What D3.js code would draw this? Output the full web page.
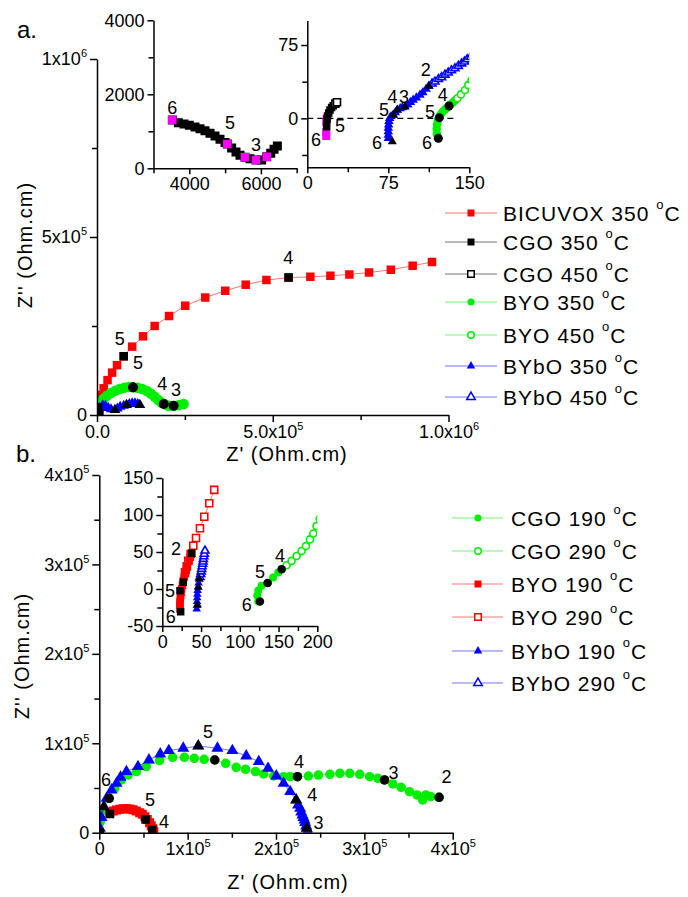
<!DOCTYPE html>
<html>
<head>
<meta charset="utf-8">
<script src="https://cdn.jsdelivr.net/npm/d3@7"></script>
<style>
  body { margin: 0; background: #ffffff; }
  svg text { font-family: "Liberation Sans", Arial, Helvetica, sans-serif; fill: #000; }
</style>
</head>
<body>
<svg id="chart" width="688" height="897"></svg>
<script>
// ================= DATA (Z', Z'' in Ohm.cm) =================

// ---- (a) 350 / 450 °C ----
const bicuvox350 = [[3e3,30e3],[5e3,42e3],[7.6e3,56e3],[19e3,75e3],[30e3,98e3],[43e3,119e3],[57e3,140e3],[76e3,165e3],[100e3,192e3],[131e3,221e3],[164e3,250e3],[205e3,278e3],[251e3,307e3],[308e3,330e3],[365e3,349e3],[423e3,366e3],[482e3,379e3],[545e3,386e3],[607e3,388e3],[664e3,391e3],[718e3,395e3],[774e3,400e3],[836e3,408e3],[898e3,419e3],[953e3,430e3]];
const bicuvox350Keys = [[76e3,165e3],[545e3,386e3]];

// CGO 350 low-frequency arc and high-frequency end
const cgo350Lf = [[3526,1306],[3694,1234],[3852,1198],[4001,1162],[4159,1117],[4299,1072],[4438,1018],[4578,946],[4718,874],[4857,784],[4997,694],[5062,658],[5183,550],[5304,441],[5416,351],[5555,297],[5695,261],[5863,225],[6021,225],[6162,315],[6274,405],[6367,514],[6460,604]];
const cgo350LfDecades = [[3526,1306],[5062,658],[5555,297],[5863,225],[6162,315]];
const cgo350Hf = [[18.3,-1],[18.8,2.5],[19.8,5.5],[21,8.5],[22.5,11],[24,13]];
const cgo350HfDecades = [[17.5,-18],[17.5,-14],[17.6,-4],[18,0]];
const cgo350Keys = [[17.9,-8.5],[4e3,22e3]];
const cgo450 = [[26,15],[27.5,16.5]];

const byo350Hf = [[121.3,-20.5],[120,-16],[119.8,-11],[120.2,-6],[121,-2],[122.2,0.7],[123.5,4],[125.3,6.8],[127.5,9],[129.5,11],[131.2,12.6],[133,14.5],[135,16.5],[137,18.5]];
const byo350 = [[2.8e3,23.4e3],[9.5e3,35.5e3],[19e3,45.8e3],[28.4e3,54.2e3],[39.8e3,61.7e3],[52.1e3,68.2e3],[64.5e3,72.9e3],[77.7e3,76.6e3],[90e3,78.5e3],[102.4e3,77.6e3],[115.6e3,76.6e3],[128.9e3,72.9e3],[142.2e3,67.3e3],[153.6e3,59.8e3],[164e3,51.4e3],[174.4e3,42.1e3],[183.9e3,34.6e3],[193.4e3,29.9e3],[203.8e3,26.2e3],[218e3,25.2e3],[232.2e3,27.1e3],[246.5e3,30.8e3]];
const byo350Keys = [[121.3,-20.5],[122.2,0.7],[131.2,12.6],[102.4e3,77.6e3],[190e3,30.8e3],[218e3,26e3]];
const byo450 = [[139,20.5],[142.3,24.5],[146,29],[149,34],[152,39]];

const bybo350Hf = [[75,-20.5],[75,-17],[75,-13.5],[75,-10],[75.3,-6.5],[75.6,-3],[76.3,0],[77.5,2],[79.6,3.4],[81.5,6],[83.3,8.5],[86,10],[88,11],[90.4,11.9],[93,14],[95.5,16.5],[98,18.8],[101,21],[104.3,23.9],[107,26.5],[110,30],[112.6,33]];
const bybo350 = [[2e3,10e3],[8e3,20e3],[16e3,27e3],[24e3,26e3],[32e3,20e3],[40e3,16e3],[51e3,14e3],[58e3,18e3],[66e3,23e3],[76e3,26e3],[84e3,28e3],[92e3,31e3],[100e3,33e3],[108e3,33e3],[116e3,31e3],[122e3,28e3]];
const bybo350Keys = [[78.7,-23.9],[79.6,3.4],[83.3,8.5],[90.4,11.9],[112.6,33],[51e3,14e3],[84e3,28e3],[122e3,28e3]];
const bybo450 = [[115.5,35.5],[118.2,37.5],[121.5,40],[124.4,42],[127.5,44.5],[130.5,46.7],[133.5,49],[136.7,51],[139.8,53.5],[142.9,56],[145.5,58],[148,60.3],[151,62.5]];

// ---- (b) 190 / 290 °C ----
const cgo190Hf = [[123.8,-17],[122.5,-8.9],[123.8,-2.2],[128,4.5],[135.9,8],[143,15.6],[149.6,22.3],[154,26.8]];
const cgo190 = [[1e3,12e3],[2.6e3,23.5e3],[11.2e3,38.4e3],[17.6e3,49.6e3],[25e3,59e3],[32.6e3,64.5e3],[42e3,68.3e3],[53.2e3,73.9e3],[68.2e3,80.6e3],[83e3,84.3e3],[96.3e3,84.3e3],[107.5e3,83.2e3],[118.7e3,82e3],[130.7e3,81.3e3],[143e3,77.6e3],[155e3,73.1e3],[165.5e3,70.9e3],[176.8e3,68.3e3],[186e3,65.7e3],[197.4e3,63.4e3],[208.6e3,62.7e3],[216e3,62.7e3],[224.3e3,62.7e3],[236.7e3,63.4e3],[248e3,64.5e3],[261e3,65.3e3],[272.3e3,66.4e3],[283.5e3,66.4e3],[294.8e3,65.3e3],[306e3,62.7e3],[315.4e3,60.8e3],[322.8e3,59e3],[332.2e3,54.5e3],[341.6e3,50.7e3],[351e3,45.9e3],[359.6e3,42.2e3],[366e3,36.6e3],[369.7e3,42.2e3],[375.3e3,40.3e3],[384.6e3,39.6e3]];
const cgo190Keys = [[126,-17],[135.9,8],[154,26.8],[11.2e3,38.4e3],[130.7e3,81.3e3],[224.3e3,62.7e3],[322.8e3,59e3],[384.6e3,39.6e3]];
const cgo290 = [[160.4,32],[166.8,38],[173.3,44.6],[179.7,51.3],[185.3,58],[190.5,67],[194.8,75],[199,85],[203,95]];

const byo190Hf = [[22.8,-27],[22.8,-22],[22.8,-18],[23.2,-13],[23.7,-9],[24.2,-4.5],[25,0],[26,5],[27.1,11.3],[28.2,16],[29.3,20.3],[30.8,25],[32.5,30],[34.5,38.3],[36,43],[37.9,48.2]];
const byo190 = [[12e3,22.4e3],[15.7e3,24.3e3],[19.5e3,25.4e3],[23.2e3,26.1e3],[27e3,26.9e3],[30.7e3,26.9e3],[34.5e3,26.5e3],[38.2e3,25.7e3],[41.9e3,24.3e3],[45.7e3,22.4e3],[48.7e3,20.5e3],[51.7e3,17.9e3],[54.3e3,14.9e3],[56.9e3,11.2e3],[58.8e3,7.8e3],[60.7e3,4.5e3],[61.8e3,1.1e3]];
const byo190Keys = [[23.7,-30.6],[22.8,-2.3],[27.1,9],[37.9,48.2],[12e3,20.9e3],[52.4e3,14.9e3],[59.9e3,3e3]];
const byo290 = [[29.3,22.5],[31.5,30.6],[33.5,38],[36.6,47.3],[40,58.5],[43.5,69],[48.6,82],[54.2,97.7],[60.6,115.8],[67,134]];

const bybo190Hf = [[44.4,-27],[44.6,-22],[44.8,-17],[45,-12],[45.2,-7],[45.6,-2],[46.2,3],[46.8,8],[47.7,13.5]];
const bybo190 = [[0.7e3,4.9e3],[2.5e3,17e3],[5.2e3,29e3],[8.2e3,38.4e3],[13.9e3,47.8e3],[19.5e3,55.2e3],[24e3,62e3],[30.7e3,68.3e3],[43.8e3,73.9e3],[56.2e3,81.3e3],[69e3,88e3],[78.7e3,91.8e3],[95e3,94.4e3],[112e3,97e3],[133.7e3,94.4e3],[150.6e3,91.8e3],[166.3e3,85.8e3],[180.5e3,79.5e3],[191e3,72e3],[200.4e3,63.4e3],[208.6e3,55.2e3],[216e3,46e3],[222.8e3,36.6e3],[225e3,31e3],[227.3e3,27.2e3],[228.5e3,23e3],[229.9e3,19.8e3],[231e3,17e3],[232.2e3,14.2e3],[233e3,11.5e3],[234.2e3,7.5e3],[234.8e3,5e3],[236e3,1.5e3]];
const bybo190Keys = [[45.6,-21.6],[46.5,2.3],[47.7,13.5],[5.2e3,29e3],[112e3,97e3],[222.8e3,36.6e3],[234.8e3,5e3]];
const bybo290 = [[48.6,16],[49.5,20],[50.2,23.5],[50.8,27],[51.4,30.5],[52,33.8],[52.5,37],[53,40.5],[53.6,44],[54.2,47.3],[55.1,51.8]];

// ---- frequency labels (log f) placed at data coordinates ----
const labelsAMain = [["4",544e3,440e3],["5",65e3,213e3],["5",117e3,145e3],["4",186e3,87e3],["3",225e3,70e3]];
const labelsAIn1 = [["6",3525,1622],["5",5137,1232],["3",5863,630]];
const labelsAIn2 = [["2",109.6,49.4],["4",79,21.8],["3",89.5,21.8],["5",71,8.5],["6",64.5,-25.3],["4",125.4,23.8],["5",113.6,6.4],["6",110.8,-25.3],["6",8,-22.3],["5",30.3,-7.9]];
const labelsBMain = [["6",7.6e3,59e3],["5",123e3,113e3],["4",226e3,79.4e3],["3",333e3,66.4e3],["2",393e3,62e3],["4",241e3,42e3],["3",248e3,11.2e3],["5",57.4e3,36.6e3],["4",73.2e3,12.3e3]];
const labelsBIn = [["2",17.7,53.6],["5",9.9,-2.3],["6",10.8,-37.4],["6",109,-21.6],["5",126,22.6],["4",152,45]];

// ---- ticks ----
const aMainXTicks = [0, 5e5, 1e6], aMainXLabels = ["0.0", "5.0x10^5", "1.0x10^6"], aMainXMinor = [2.5e5, 7.5e5];
const aMainYTicks = [0, 5e5, 1e6], aMainYLabels = ["0", "5x10^5", "1x10^6"], aMainYMinor = [2.5e5, 7.5e5];
const aIn1XTicks = [4000, 6000], aIn1XLabels = ["4000", "6000"], aIn1XMinor = [3000, 5000, 7000];
const aIn1YTicks = [0, 2000, 4000], aIn1YLabels = ["0", "2000", "4000"], aIn1YMinor = [1000, 3000];
const aIn2XTicks = [0, 75, 150], aIn2XLabels = ["0", "75", "150"], aIn2XMinor = [37.5, 112.5];
const aIn2YTicks = [0, 75], aIn2YLabels = ["0", "75"], aIn2YMinor = [-37.5, 37.5];
const bMainTicks = [0, 1e5, 2e5, 3e5, 4e5], bMainLabels = ["0", "1x10^5", "2x10^5", "3x10^5", "4x10^5"], bMainMinor = [0.5e5, 1.5e5, 2.5e5, 3.5e5];
const bInXTicks = [0, 50, 100, 150, 200], bInXLabels = ["0", "50", "100", "150", "200"], bInXMinor = [25, 75, 125, 175];
const bInYTicks = [-50, 0, 50, 100, 150], bInYLabels = ["-50", "0", "50", "100", "150"], bInYMinor = [-25, 25, 75, 125];

// ---- legends ----
const legendA = [["BICUVOX 350", "bicuvox"], ["CGO 350", "blackF"], ["CGO 450", "blackO"], ["BYO 350", "greenF"], ["BYO 450", "greenO"], ["BYbO 350", "blueF"], ["BYbO 450", "blueO"]];
const legendB = [["CGO 190", "greenF"], ["CGO 290", "greenO"], ["BYO 190", "redF"], ["BYO 290", "redO"], ["BYbO 190", "blueF"], ["BYbO 290", "blueO"]];

// ================= STYLES =================
const RED = "#ff0000", GREEN = "#00ee00", BLUE = "#0000ff", BLACK = "#000000", MAGENTA = "#ff00ff";
const styles = {
  bicuvox: { color: RED, shape: "square" },
  redF: { color: RED, shape: "square" },
  redO: { color: RED, shape: "square", open: true },
  blackF: { color: BLACK, shape: "square" },
  blackO: { color: BLACK, shape: "square", open: true },
  greenF: { color: GREEN, shape: "circle" },
  greenO: { color: GREEN, shape: "circle", open: true },
  blueF: { color: BLUE, shape: "triangle" },
  blueO: { color: BLUE, shape: "triangle", open: true },
  magenta: { color: MAGENTA, shape: "square" },
  keySq: { color: BLACK, shape: "square" },
  keyCi: { color: BLACK, shape: "circle" },
  keyTr: { color: BLACK, shape: "triangle" }
};
const symbolTypes = { square: d3.symbolSquare, circle: d3.symbolCircle, triangle: d3.symbolTriangle };
function symArea(shape, s) {
  if (shape === "square") return s * s;
  if (shape === "circle") return Math.PI * s * s / 4;
  return Math.sqrt(3) / 4 * s * s;
}

const svg = d3.select("#chart");
let clipCount = 0;

function withSup(textSel, str, supSize, supRise) {
  const parts = str.split("^");
  textSel.text(null);
  textSel.append("tspan").text(parts[0]);
  if (parts.length > 1) textSel.append("tspan").attr("font-size", supSize).attr("dy", -supRise).text(parts[1]);
}

function drawMarks(layer, x, y, data, styleKey, size, withLine) {
  const st = styles[styleKey];
  if (withLine) {
    layer.append("path").datum(data)
      .attr("d", d3.line().x(d => x(d[0])).y(d => y(d[1])))
      .attr("fill", "none").attr("stroke", st.color)
      .attr("stroke-width", 1).attr("stroke-opacity", 0.55);
  }
  const sym = d3.symbol(symbolTypes[st.shape], symArea(st.shape, size))();
  layer.append("g").selectAll("path").data(data).join("path")
    .attr("transform", d => `translate(${x(d[0])},${y(d[1])})`)
    .attr("d", sym)
    .attr("fill", st.open ? "#ffffff" : st.color)
    .attr("stroke", st.open ? st.color : "none")
    .attr("stroke-width", st.open ? 1.6 : 0);
}

function panel(o) {
  const g = svg.append("g");
  const x = d3.scaleLinear().domain(o.xd).range(o.xr);
  const y = d3.scaleLinear().domain(o.yd).range(o.yr);
  const id = "clip" + (clipCount++);
  svg.append("clipPath").attr("id", id).append("rect")
    .attr("x", o.xr[0]).attr("y", o.yr[1])
    .attr("width", o.xr[1] - o.xr[0]).attr("height", o.yr[0] - o.yr[1]);
  const plot = g.append("g").attr("clip-path", `url(#${id})`);

  if (o.zeroLine) {
    plot.append("line")
      .attr("x1", x(o.xd[0])).attr("x2", x(o.zeroLine)).attr("y1", y(0)).attr("y2", y(0))
      .attr("stroke", "#000").attr("stroke-width", 1.3).attr("stroke-dasharray", "6,4");
  }
  o.series.forEach(s => drawMarks(plot, x, y, s.data, s.style, s.size, s.line !== false));

  // axes
  const styleAxis = sel => {
    sel.attr("font-family", null).attr("font-size", null);
    sel.selectAll("path,line").attr("stroke", "#000").attr("stroke-width", 1.5);
    sel.selectAll("text").attr("font-size", o.tickFont).attr("fill", "#000");
  };
  const xa = g.append("g").attr("transform", `translate(0,${o.yr[0]})`)
    .call(d3.axisBottom(x).tickValues(o.xt).tickFormat((d, i) => o.xl[i]).tickSize(o.tickLen).tickSizeOuter(0).tickPadding(3));
  styleAxis(xa);
  xa.selectAll(".tick text").each(function(d, i) { withSup(d3.select(this), o.xl[i], o.supFont, o.supRise); });
  const xm = g.append("g").attr("transform", `translate(0,${o.yr[0]})`)
    .call(d3.axisBottom(x).tickValues(o.xm).tickFormat("").tickSize(o.minorLen));
  xm.select(".domain").remove(); styleAxis(xm);

  const ya = g.append("g").attr("transform", `translate(${o.xr[0]},0)`)
    .call(d3.axisLeft(y).tickValues(o.yt).tickFormat((d, i) => o.yl[i]).tickSize(o.tickLen).tickSizeOuter(0).tickPadding(3));
  styleAxis(ya);
  ya.selectAll(".tick text").each(function(d, i) { withSup(d3.select(this), o.yl[i], o.supFont, o.supRise); });
  const ym = g.append("g").attr("transform", `translate(${o.xr[0]},0)`)
    .call(d3.axisLeft(y).tickValues(o.ym).tickFormat("").tickSize(o.minorLen));
  ym.select(".domain").remove(); styleAxis(ym);

  // key-frequency markers and labels on top
  (o.keys || []).forEach(s => drawMarks(g.append("g").attr("clip-path", `url(#${id})`), x, y, s.data, s.style, s.size, false));
  g.append("g").selectAll("text").data(o.labels || []).join("text")
    .attr("x", d => x(d[1])).attr("y", d => y(d[2]))
    .attr("text-anchor", "middle").attr("dominant-baseline", "central")
    .attr("font-size", o.labelFont).text(d => d[0]);
  return { x, y };
}

// ================= PANEL (a) =================
panel({
  xd: [0, 1e6], xr: [97, 448.5], yd: [0, 1e6], yr: [415, 59],
  xt: aMainXTicks, xl: aMainXLabels, xm: aMainXMinor,
  yt: aMainYTicks, yl: aMainYLabels, ym: aMainYMinor,
  tickLen: 7, minorLen: 5, tickFont: 18, supFont: 11, supRise: 8, labelFont: 18,
  series: [
    { data: bicuvox350, style: "bicuvox", size: 8.5 },
    { data: byo350, style: "greenF", size: 10.5 },
    { data: bybo350, style: "blueF", size: 10.5 },
    { data: cgo350Lf, style: "blackF", size: 8, line: false }
  ],
  keys: [
    { data: bicuvox350Keys, style: "keySq", size: 8.5 },
    { data: byo350Keys, style: "keyCi", size: 10 },
    { data: bybo350Keys, style: "keyTr", size: 10.5 },
    { data: cgo350Keys, style: "keySq", size: 8 }
  ],
  labels: labelsAMain
});

// inset a-1 : CGO 350 low-frequency arc
panel({
  xd: [3000, 7000], xr: [153.5, 296.7], yd: [0, 4000], yr: [168.3, 20.3],
  xt: aIn1XTicks, xl: aIn1XLabels, xm: aIn1XMinor,
  yt: aIn1YTicks, yl: aIn1YLabels, ym: aIn1YMinor,
  tickLen: 6, minorLen: 5, tickFont: 18, supFont: 11, supRise: 8, labelFont: 18,
  series: [
    { data: cgo350Lf, style: "blackF", size: 9 },
    { data: cgo350LfDecades, style: "magenta", size: 8.5, line: false }
  ],
  labels: labelsAIn1
});

// inset a-2 : high-frequency ends
panel({
  xd: [0, 150], xr: [307.3, 469.3], yd: [-50, 100], yr: [167.2, 20.6],
  xt: aIn2XTicks, xl: aIn2XLabels, xm: aIn2XMinor,
  yt: aIn2YTicks, yl: aIn2YLabels, ym: aIn2YMinor,
  tickLen: 6, minorLen: 5, tickFont: 18, supFont: 11, supRise: 8, labelFont: 18,
  zeroLine: 138,
  series: [
    { data: cgo350HfDecades, style: "magenta", size: 8, line: false },
    { data: cgo350Hf, style: "blackF", size: 7.5 },
    { data: cgo450, style: "blackO", size: 7 },
    { data: byo350Hf, style: "greenF", size: 8.5 },
    { data: byo450, style: "greenO", size: 7 },
    { data: bybo350Hf, style: "blueF", size: 9.5 },
    { data: bybo450, style: "blueO", size: 8 }
  ],
  keys: [
    { data: cgo350Keys, style: "keySq", size: 7.5 },
    { data: byo350Keys, style: "keyCi", size: 9 },
    { data: bybo350Keys, style: "keyTr", size: 9 }
  ],
  labels: labelsAIn2
});

// ================= PANEL (b) =================
panel({
  xd: [0, 4e5], xr: [99.3, 452.7], yd: [0, 4e5], yr: [832.7, 475],
  xt: bMainTicks, xl: bMainLabels, xm: bMainMinor,
  yt: bMainTicks, yl: bMainLabels, ym: bMainMinor,
  tickLen: 7, minorLen: 5, tickFont: 18, supFont: 11, supRise: 8, labelFont: 18,
  series: [
    { data: cgo190, style: "greenF", size: 9.5 },
    { data: byo190, style: "redF", size: 9 },
    { data: bybo190, style: "blueF", size: 12 },
    { data: byo190Hf, style: "redF", size: 6, line: false },
    { data: bybo190Hf, style: "blueF", size: 6, line: false }
  ],
  keys: [
    { data: cgo190Keys, style: "keyCi", size: 9.5 },
    { data: byo190Keys, style: "keySq", size: 8.5 },
    { data: bybo190Keys, style: "keyTr", size: 11.5 }
  ],
  labels: labelsBMain
});

// inset b : high-frequency ends
panel({
  xd: [0, 200], xr: [162.3, 317.3], yd: [-50, 150], yr: [626, 478],
  xt: bInXTicks, xl: bInXLabels, xm: bInXMinor,
  yt: bInYTicks, yl: bInYLabels, ym: bInYMinor,
  tickLen: 6, minorLen: 5, tickFont: 18, supFont: 11, supRise: 8, labelFont: 18,
  series: [
    { data: byo290, style: "redO", size: 7 },
    { data: byo190Hf, style: "redF", size: 7.5 },
    { data: bybo290, style: "blueO", size: 8 },
    { data: bybo190Hf, style: "blueF", size: 8.5 },
    { data: cgo290, style: "greenO", size: 7 },
    { data: cgo190Hf, style: "greenF", size: 8 }
  ],
  keys: [
    { data: byo190Keys, style: "keySq", size: 7.5 },
    { data: bybo190Keys, style: "keyTr", size: 8.5 },
    { data: cgo190Keys, style: "keyCi", size: 8.5 }
  ],
  labels: labelsBIn
});

// ================= TITLES =================
function axisTitle(txt, x, y, rotate) {
  svg.append("text")
    .attr("transform", `translate(${x},${y})` + (rotate ? " rotate(-90)" : ""))
    .attr("text-anchor", "middle").attr("font-size", 20).attr("letter-spacing", 1)
    .text(txt);
}
axisTitle("Z' (Ohm.cm)", 287, 461, false);
axisTitle("Z'' (Ohm.cm)", 32, 245, true);
axisTitle("Z' (Ohm.cm)", 288, 889, false);
axisTitle("Z'' (Ohm.cm)", 29, 656, true);

svg.append("text").attr("x", 17).attr("y", 38).attr("font-size", 24).text("a.");
svg.append("text").attr("x", 16).attr("y", 462).attr("font-size", 24).text("b.");

// ================= LEGENDS =================
function legend(items, rows, x0, x1, xm, xt) {
  const g = svg.append("g");
  items.forEach((it, i) => {
    const st = styles[it[1]];
    const yy = rows[i];
    g.append("line").attr("x1", x0).attr("x2", x1).attr("y1", yy).attr("y2", yy)
      .attr("stroke", st.color).attr("stroke-width", 1).attr("stroke-opacity", 0.55);
    const s = st.shape === "triangle" ? 8.5 : (st.open ? 6.5 : 7);
    g.append("path").attr("transform", `translate(${xm},${yy})`)
      .attr("d", d3.symbol(symbolTypes[st.shape], symArea(st.shape, s))())
      .attr("fill", st.open ? "#fff" : st.color)
      .attr("stroke", st.open ? st.color : "none").attr("stroke-width", 1.5);
    const t = g.append("text").attr("x", xt).attr("y", yy + 7.5)
      .attr("font-size", 21).attr("letter-spacing", 1);
    t.append("tspan").text(it[0] + " ");
    t.append("tspan").attr("font-size", 13).attr("dy", -12).text("o");
    t.append("tspan").attr("dy", 12).text("C");
  });
}
legend(legendA, [213, 242, 274, 302, 335, 366, 397], 445, 497, 471, 503);
legend(legendB, [518, 551, 584, 617, 651, 683], 452, 503, 478, 511);
</script>
</body>
</html>
